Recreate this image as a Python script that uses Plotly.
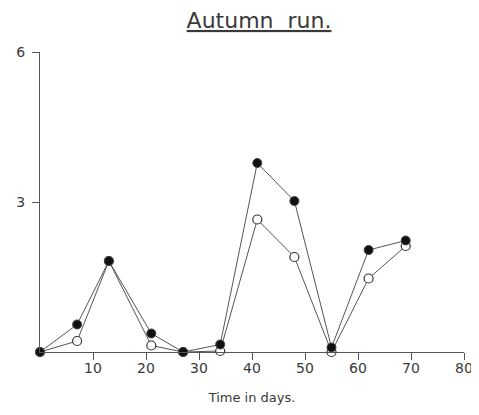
import plotly.graph_objects as go

days = [0, 7, 13, 21, 27, 34, 41, 48, 55, 62, 69]
filled_vals = [0, 0.55, 1.82, 0.37, 0, 0.15, 3.78, 3.02, 0.09, 2.04, 2.23]
open_vals = [0, 0.22, 1.82, 0.13, 0, 0.02, 2.65, 1.9, 0.0, 1.47, 2.12]
x_ticks = [10, 20, 30, 40, 50, 60, 70, 80]
y_ticks = [3, 6]

fig = go.Figure()
fig.add_trace(go.Scatter(
    x=days, y=open_vals, mode="lines+markers", cliponaxis=False,
    line=dict(color="#555555", width=1),
    marker=dict(symbol="circle", size=9, color="white", line=dict(color="#333333", width=1.2)),
    showlegend=False))
fig.add_trace(go.Scatter(
    x=days, y=filled_vals, mode="lines+markers", cliponaxis=False,
    line=dict(color="#555555", width=1),
    marker=dict(symbol="circle", size=9, color="#111111", line=dict(color="#444444", width=1)),
    showlegend=False))

fig.update_layout(
    width=471, height=407,
    margin=dict(l=32, r=15, t=44, b=63),
    paper_bgcolor="white", plot_bgcolor="white",
    font=dict(family="DejaVu Sans", color="#3a3a3a", size=13),
    title=dict(text="<u>Autumn&nbsp; run.</u>", x=0.533, xanchor="center", y=0.97, yanchor="middle",
               font=dict(size=22, color="#3a3a3a")),
)
fig.update_xaxes(range=[0, 80], tickvals=x_ticks, showline=True, linecolor="#555555", linewidth=1,
                 ticks="outside", ticklen=7, tickcolor="#555555", showgrid=False, zeroline=False,
                 tickfont=dict(size=14), automargin=False, ticklabelstandoff=-4,
                 title=dict(text="Time in days.", font=dict(size=13), standoff=18))
fig.update_yaxes(range=[0, 6], tickvals=y_ticks, showline=True, linecolor="#555555", linewidth=1,
                 ticks="outside", ticklen=7, tickcolor="#555555", showgrid=False, zeroline=False,
                 tickfont=dict(size=14), automargin=False, ticklabelstandoff=4)

fig.write_html("out.html")
